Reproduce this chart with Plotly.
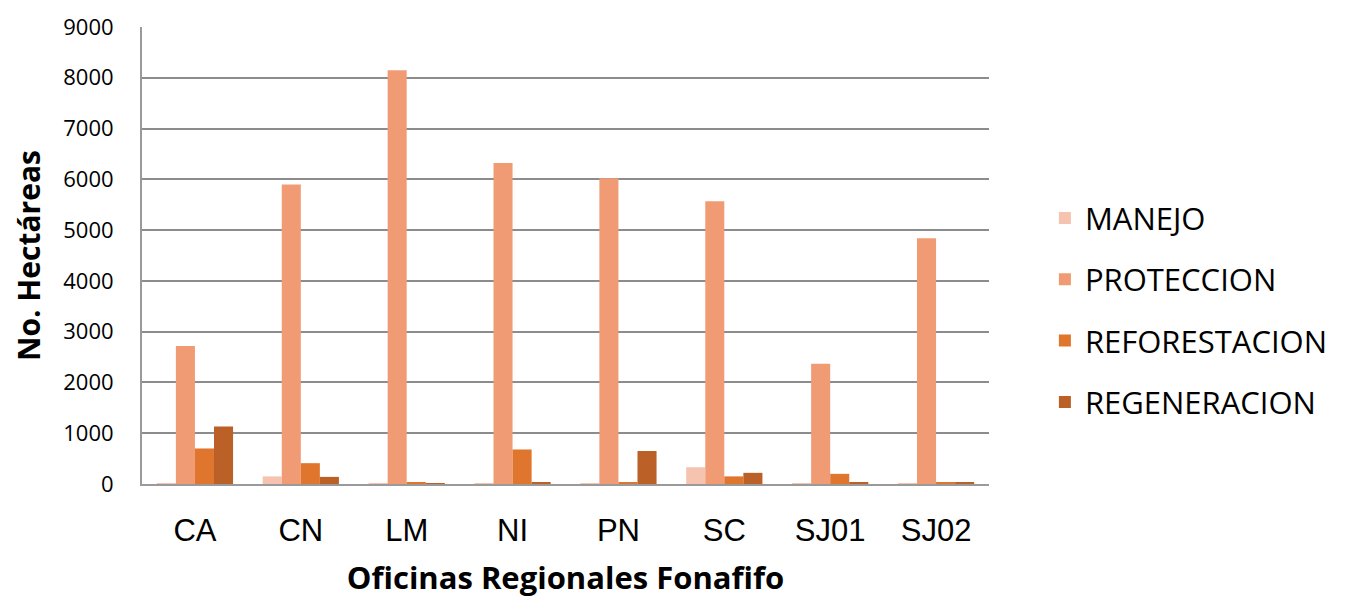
import plotly.graph_objects as go

categories = ["CA", "CN", "LM", "NI", "PN", "SC", "SJ01", "SJ02"]
manejo = [15, 150, 15, 15, 15, 330, 15, 15]
proteccion = [2720, 5900, 8150, 6320, 6020, 5570, 2370, 4840]
reforestacion = [700, 410, 20, 680, 20, 150, 200, 20]
regeneracion = [1130, 140, 15, 40, 650, 220, 30, 40]

series = [
    ("MANEJO", manejo, "#F5C3B0"),
    ("PROTECCION", proteccion, "#F09B74"),
    ("REFORESTACION", reforestacion, "#E0762E"),
    ("REGENERACION", regeneracion, "#BB6026"),
]

fig = go.Figure()
for i, (name, vals, color) in enumerate(series):
    fig.add_trace(go.Bar(
        x=categories, y=vals, name=name,
        marker=dict(color=color, line=dict(width=0)),
        legendgroup=name,
    ))

fig.update_layout(
    width=1346, height=600,
    barmode="group", bargap=0.28, bargroupgap=0,
    plot_bgcolor="white", paper_bgcolor="white",
    margin=dict(l=134, r=365, t=19, b=124, autoexpand=False),
    font=dict(family="Open Sans, sans-serif", color="#000"),
    showlegend=True,
    legend=dict(
        x=1.066, xanchor="left", y=0.38, yanchor="middle",
        font=dict(size=31, family="Open Sans, sans-serif"),
        tracegroupgap=18, traceorder="grouped",
        bgcolor="rgba(0,0,0,0)",
    ),
    xaxis=dict(
        automargin=False,
        tickfont=dict(size=31, family="Liberation Sans Narrow, Arial Narrow, Liberation Sans, sans-serif"),
        ticklabelstandoff=18,
        showline=True, linecolor="#9a9a9a", linewidth=2,
        ticks="", showgrid=False,
        title=dict(text="<b>Oficinas Regionales Fonafifo</b>",
                   font=dict(size=31, family="Open Sans, sans-serif"), standoff=20),
    ),
    yaxis=dict(
        automargin=False,
        range=[0, 9000], dtick=1000, tickformat="d",
        tickfont=dict(size=22, family="Open Sans, sans-serif"),
        ticklabelstandoff=22,
        showgrid=True, gridcolor="#8c8c8c", gridwidth=2,
        showline=True, linecolor="#9a9a9a", linewidth=2,
        zeroline=False, ticks="", ticklen=0,
        title=dict(text="<b>No. Hectáreas</b>",
                   font=dict(size=30, family="Open Sans, sans-serif"), standoff=14),
    ),
)

fig.write_html("out.html")
